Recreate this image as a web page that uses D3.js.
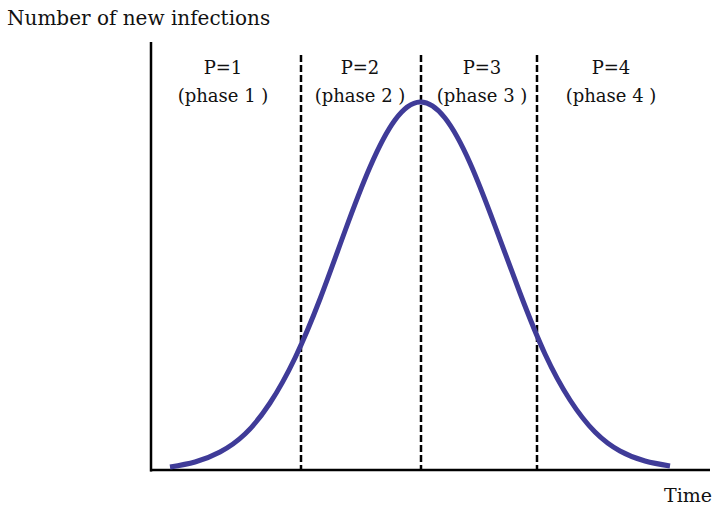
<!DOCTYPE html>
<html>
<head>
<meta charset="utf-8">
<script src="https://cdn.jsdelivr.net/npm/d3@7"></script>
<style>
  body { margin: 0; background: #fff; }
  text { font-family: "DejaVu Serif", serif; fill: #111; }
</style>
</head>
<body>
<svg id="chart" width="714" height="507"></svg>
<script>
// time steps (arbitrary units) and new infections
const times = [0, 1, 2, 3, 4, 5, 6, 7, 8, 9, 10, 11, 12, 13, 14, 15, 16, 17, 18, 19, 20];
const infections = [3, 8, 18, 36, 67, 112, 171, 239, 303, 350, 368, 352, 307, 244, 177, 116, 70, 38, 19, 9, 4];

// phase boundaries (time) and labels
const phaseBounds = [5.24, 10.04, 14.68];
const phaseNames = ['P=1', 'P=2', 'P=3', 'P=4'];
const phaseSubs = ['(phase 1 )', '(phase 2 )', '(phase 3 )', '(phase 4 )'];
const phaseLabelAt = [2.12, 7.6, 12.48, 17.64];

const svg = d3.select('#chart');

const x = d3.scaleLinear().domain([-0.76, 21.6]).range([151, 710]);
const y = d3.scaleLinear().domain([0, 428]).range([470, 42]);

// axes (plain lines, no ticks)
svg.append('line')
  .attr('x1', x(-0.76)).attr('x2', x(-0.76))
  .attr('y1', y(428)).attr('y2', y(0) + 1.5)
  .attr('stroke', '#000').attr('stroke-width', 2.5);
svg.append('line')
  .attr('x1', x(-0.76) - 1).attr('x2', x(21.6))
  .attr('y1', y(0)).attr('y2', y(0))
  .attr('stroke', '#000').attr('stroke-width', 2.5);

// dashed phase separators
svg.selectAll('.sep')
  .data(phaseBounds)
  .join('line')
  .attr('class', 'sep')
  .attr('x1', d => x(d)).attr('x2', d => x(d))
  .attr('y1', 55).attr('y2', y(0))
  .attr('stroke', '#000')
  .attr('stroke-width', 2.5)
  .attr('stroke-dasharray', '7,3');

// curve
const pts = times.map((t, i) => [t, infections[i]]);
const line = d3.line()
  .x(d => x(d[0]))
  .y(d => y(d[1]))
  .curve(d3.curveNatural);

svg.append('path')
  .datum(pts)
  .attr('d', line)
  .attr('fill', 'none')
  .attr('stroke', '#3f3b98')
  .attr('stroke-width', 5)
  .attr('stroke-linecap', 'butt');

// phase labels
svg.selectAll('.pname')
  .data(phaseNames)
  .join('text')
  .attr('class', 'pname')
  .attr('x', (d, i) => x(phaseLabelAt[i]))
  .attr('y', 74)
  .attr('text-anchor', 'middle')
  .attr('font-size', 18)
  .text(d => d);

svg.selectAll('.psub')
  .data(phaseSubs)
  .join('text')
  .attr('class', 'psub')
  .attr('x', (d, i) => x(phaseLabelAt[i]))
  .attr('y', 102)
  .attr('text-anchor', 'middle')
  .attr('font-size', 18)
  .text(d => d);

// axis titles
svg.append('text')
  .attr('x', 7).attr('y', 25)
  .attr('font-size', 20)
  .text('Number of new infections');

svg.append('text')
  .attr('x', 712).attr('y', 502)
  .attr('text-anchor', 'end')
  .attr('font-size', 19)
  .text('Time');
</script>
</body>
</html>
